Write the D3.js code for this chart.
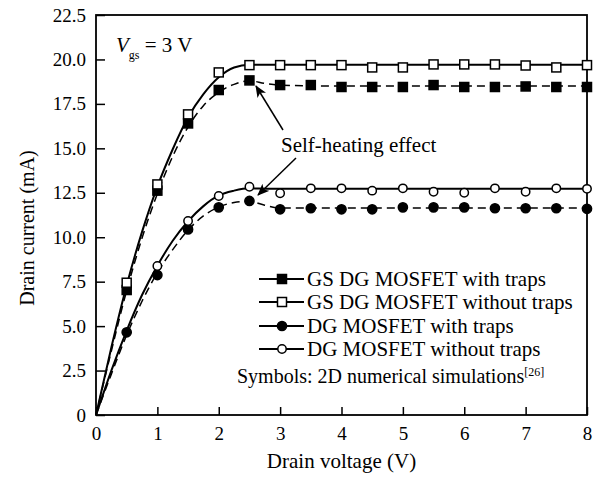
<!DOCTYPE html>
<html>
<head>
<meta charset="utf-8">
<script src="https://cdn.jsdelivr.net/npm/d3@7"></script>
<style>
  body { margin: 0; background: #fff; }
  svg text { font-family: "Liberation Serif", "Times New Roman", serif; fill: #000; }
</style>
</head>
<body>
<div id="chart"></div>
<script>
// simulation symbols (drain voltage in V, current in mA)
const symX = [0.5, 1, 1.5, 2, 2.5, 3, 3.5, 4, 4.5, 5, 5.5, 6, 6.5, 7, 7.5, 8];
const gsTrapsPts   = [7.03, 12.62, 16.4, 18.28, 18.82, 18.56, 18.56, 18.45, 18.45, 18.45, 18.56, 18.45, 18.45, 18.48, 18.45, 18.45];
const gsNoTrapsPts = [7.44, 12.97, 16.91, 19.27, 19.68, 19.68, 19.68, 19.68, 19.55, 19.55, 19.72, 19.72, 19.72, 19.66, 19.55, 19.68];
const dgTrapsPts   = [4.65, 7.87, 10.44, 11.68, 12.04, 11.57, 11.63, 11.57, 11.57, 11.68, 11.68, 11.68, 11.63, 11.63, 11.63, 11.6];
const dgNoTrapsPts = [null, 8.38, 10.91, 12.32, 12.84, 12.47, 12.75, 12.75, 12.62, 12.75, 12.56, 12.5, 12.75, 12.56, 12.75, 12.72];

// model curves
const curveX = [0, 0.25, 0.5, 0.75, 1, 1.25, 1.5, 1.75, 2, 2.25, 2.5, 2.75, 3, 4, 5, 6, 7, 8];
const gsNoTrapsCurve = [0, 3.8, 7.3, 10.3, 12.85, 14.95, 16.75, 18.05, 19.0, 19.55, 19.7, 19.7, 19.7, 19.7, 19.7, 19.7, 19.7, 19.7];
const gsTrapsCurve   = [0, 3.6, 7.0, 9.95, 12.45, 14.55, 16.2, 17.4, 18.15, 18.6, 18.8, 18.65, 18.55, 18.5, 18.5, 18.5, 18.5, 18.5];
const dgNoTrapsCurve = [0, 2.5, 4.75, 6.75, 8.4, 9.8, 10.9, 11.75, 12.35, 12.62, 12.75, 12.73, 12.72, 12.72, 12.72, 12.72, 12.72, 12.72];
const dgTrapsCurve   = [0, 2.3, 4.5, 6.4, 8.0, 9.3, 10.4, 11.2, 11.7, 11.95, 12.02, 11.8, 11.65, 11.65, 11.65, 11.65, 11.65, 11.65];

const xTicks = [0, 1, 2, 3, 4, 5, 6, 7, 8];
const yTicks = [0, 2.5, 5, 7.5, 10, 12.5, 15, 17.5, 20, 22.5];

const legendLabels = [
  "GS DG MOSFET with traps",
  "GS DG MOSFET without traps",
  "DG MOSFET with traps",
  "DG MOSFET without traps"
];

const width = 603, height = 478;
const margin = { left: 96, right: 16, top: 15, bottom: 63 };

const svg = d3.select("#chart").append("svg")
  .attr("width", width)
  .attr("height", height)
  .attr("font-family", "Liberation Serif, Times New Roman, serif");

const x = d3.scaleLinear().domain([0, 8]).range([margin.left, width - margin.right]);
const y = d3.scaleLinear().domain([0, 22.5]).range([height - margin.bottom, margin.top]);

// arrow head
svg.append("defs").append("marker")
  .attr("id", "arrow")
  .attr("viewBox", "0 0 12 10")
  .attr("refX", 11).attr("refY", 5)
  .attr("markerWidth", 12).attr("markerHeight", 10)
  .attr("markerUnits", "userSpaceOnUse")
  .attr("orient", "auto")
  .append("path")
  .attr("d", "M0,0 L12,5 L0,10 L3,5 Z")
  .attr("fill", "#000");

// axes, ticks pointing inside
const xAxis = svg.append("g")
  .attr("transform", `translate(0,${y(0)})`)
  .call(d3.axisBottom(x).tickValues(xTicks).tickSizeInner(-8).tickSizeOuter(0).tickPadding(12));
xAxis.select(".domain").remove();
xAxis.attr("font-family", null);
xAxis.selectAll("line").attr("stroke", "#000").attr("stroke-width", 1.5);
xAxis.selectAll("text").style("font-size", "19px");

const yAxis = svg.append("g")
  .attr("transform", `translate(${x(0)},0)`)
  .call(d3.axisLeft(y).tickValues(yTicks).tickSizeInner(-9).tickSizeOuter(0).tickPadding(10)
    .tickFormat(d => d === 0 ? "0" : d.toFixed(1)));
yAxis.select(".domain").remove();
yAxis.attr("font-family", null);
yAxis.selectAll("line").attr("stroke", "#000").attr("stroke-width", 1.5);
yAxis.selectAll("text").style("font-size", "19px");

// frame
svg.append("rect")
  .attr("x", x(0)).attr("y", y(22.5))
  .attr("width", x(8) - x(0)).attr("height", y(0) - y(22.5))
  .attr("fill", "none").attr("stroke", "#000").attr("stroke-width", 1.8);

// axis titles
svg.append("text")
  .attr("x", (x(0) + x(8)) / 2).attr("y", 468)
  .attr("text-anchor", "middle").style("font-size", "21px")
  .text("Drain voltage (V)");
svg.append("text")
  .attr("transform", `translate(34,${(y(0) + y(22.5)) / 2 + 13}) rotate(-90)`)
  .attr("text-anchor", "middle").style("font-size", "20px")
  .text("Drain current (mA)");

// curves
const line = d3.line()
  .x((d, i) => x(curveX[i]))
  .y(d => y(d))
  .curve(d3.curveMonotoneX);

const curves = [
  { v: gsNoTrapsCurve, dash: null },
  { v: gsTrapsCurve, dash: "8,5" },
  { v: dgNoTrapsCurve, dash: null },
  { v: dgTrapsCurve, dash: "8,5" }
];
svg.selectAll(".curve").data(curves).enter().append("path")
  .attr("class", "curve")
  .attr("d", d => line(d.v))
  .attr("fill", "none")
  .attr("stroke", "#000")
  .attr("stroke-width", d => d.dash ? 1.5 : 2)
  .attr("stroke-dasharray", d => d.dash);

// symbols
const series = [
  { v: gsTrapsPts, shape: "square", filled: true },
  { v: gsNoTrapsPts, shape: "square", filled: false },
  { v: dgTrapsPts, shape: "circle", filled: true },
  { v: dgNoTrapsPts, shape: "circle", filled: false }
];

function drawSymbol(g, shape, filled) {
  if (shape === "square") {
    g.append("rect")
      .attr("x", -4.5).attr("y", -4.5).attr("width", 9).attr("height", 9)
      .attr("fill", filled ? "#000" : "#fff")
      .attr("stroke", "#000").attr("stroke-width", 1.5);
  } else {
    g.append("circle")
      .attr("r", filled ? 4.6 : 4.2)
      .attr("fill", filled ? "#000" : "#fff")
      .attr("stroke", "#000").attr("stroke-width", 1.5);
  }
}

series.forEach(s => {
  symX.forEach((vx, i) => {
    if (s.v[i] == null) return;
    const g = svg.append("g").attr("transform", `translate(${x(vx)},${y(s.v[i])})`);
    drawSymbol(g, s.shape, s.filled);
  });
});

// V_gs label
const vgs = svg.append("text").attr("x", 116).attr("y", 52).style("font-size", "21px");
vgs.append("tspan").style("font-style", "italic").text("V");
vgs.append("tspan").attr("dy", 7).style("font-size", "12px").text("gs");
vgs.append("tspan").attr("dy", -7).text(" = 3 V");

// self-heating annotation
svg.append("text")
  .attr("x", 281).attr("y", 152).style("font-size", "21px")
  .text("Self-heating effect");
svg.append("line")
  .attr("x1", 283).attr("y1", 130).attr("x2", 256).attr("y2", 86)
  .attr("stroke", "#000").attr("stroke-width", 1.5).attr("marker-end", "url(#arrow)");
svg.append("line")
  .attr("x1", 296).attr("y1", 158).attr("x2", 258).attr("y2", 195)
  .attr("stroke", "#000").attr("stroke-width", 1.5).attr("marker-end", "url(#arrow)");

// legend
const legend = svg.append("g");
const rowY = [279, 302, 326, 349];
series.forEach((s, i) => {
  const row = legend.append("g").attr("transform", `translate(0,${rowY[i]})`);
  row.append("line").attr("x1", 259).attr("x2", 304)
    .attr("stroke", "#000").attr("stroke-width", 2);
  const g = row.append("g").attr("transform", "translate(282,0)");
  drawSymbol(g, s.shape, s.filled);
  row.append("text").attr("x", 307).attr("y", 7).style("font-size", "21px")
    .text(legendLabels[i]);
});
const note = legend.append("text").attr("x", 237).attr("y", 383).style("font-size", "20px");
note.append("tspan").text("Symbols: 2D numerical simulations");
note.append("tspan").attr("dy", -7).style("font-size", "12px").text("[26]");
</script>
</body>
</html>
